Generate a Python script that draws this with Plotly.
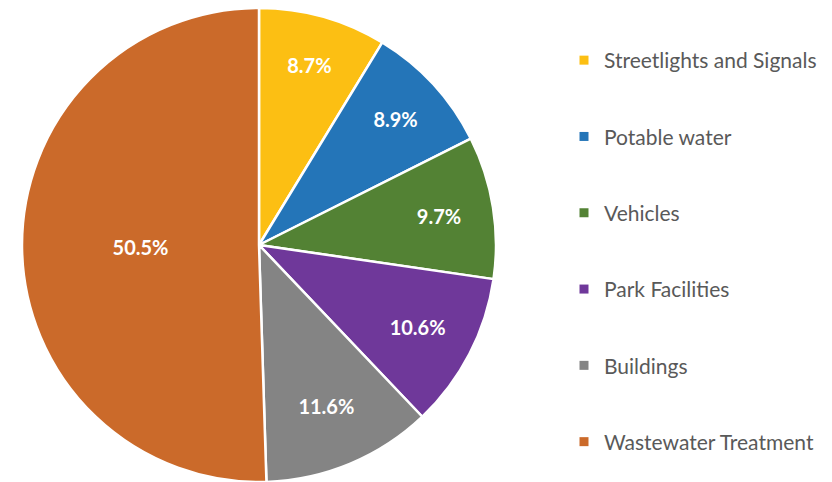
import plotly.graph_objects as go

categories = ["Streetlights and Signals", "Potable water", "Vehicles",
              "Park Facilities", "Buildings", "Wastewater Treatment"]
shares = [8.7, 8.9, 9.7, 10.6, 11.6, 50.5]
colors = ["#FCBF13", "#2475B8", "#538234", "#6F389A", "#848484", "#CB6A2A"]

W, H = 832, 482
# page body adds an 8px offset; target centre on screen about (259, 244)
cx, cy, r = 251, 237, 237

fig = go.Figure()
fig.add_trace(go.Pie(
    labels=categories, values=shares, sort=False, direction="clockwise",
    rotation=0, showlegend=False,
    marker=dict(colors=colors, line=dict(color="white", width=2.5)),
    texttemplate="%{value:.1f}%", textposition="inside",
    insidetextorientation="horizontal",
    textfont=dict(family="Lato", size=20, color="white", weight="bold"),
    hoverinfo="label+percent",
    domain=dict(x=[(cx - r) / W, (cx + r) / W],
                y=[max(0, 1 - (cy + r) / H), min(1, 1 - (cy - r) / H)]),
))
for name, col in zip(categories, colors):
    fig.add_trace(go.Scatter(
        x=[None], y=[None], mode="markers", name=name, legendgroup=name,
        marker=dict(symbol="square", size=9, color=col),
    ))

fig.update_layout(
    width=W, height=H, margin=dict(l=0, r=0, t=0, b=0),
    paper_bgcolor="white", plot_bgcolor="white",
    xaxis=dict(visible=False), yaxis=dict(visible=False),
    legend=dict(x=556 / W, y=1 - 32 / H, xanchor="left", yanchor="top",
                font=dict(family="Lato", size=21, color="#595959"),
                tracegroupgap=46, itemwidth=30, bgcolor="rgba(0,0,0,0)"),
)
fig.write_html("out.html")
